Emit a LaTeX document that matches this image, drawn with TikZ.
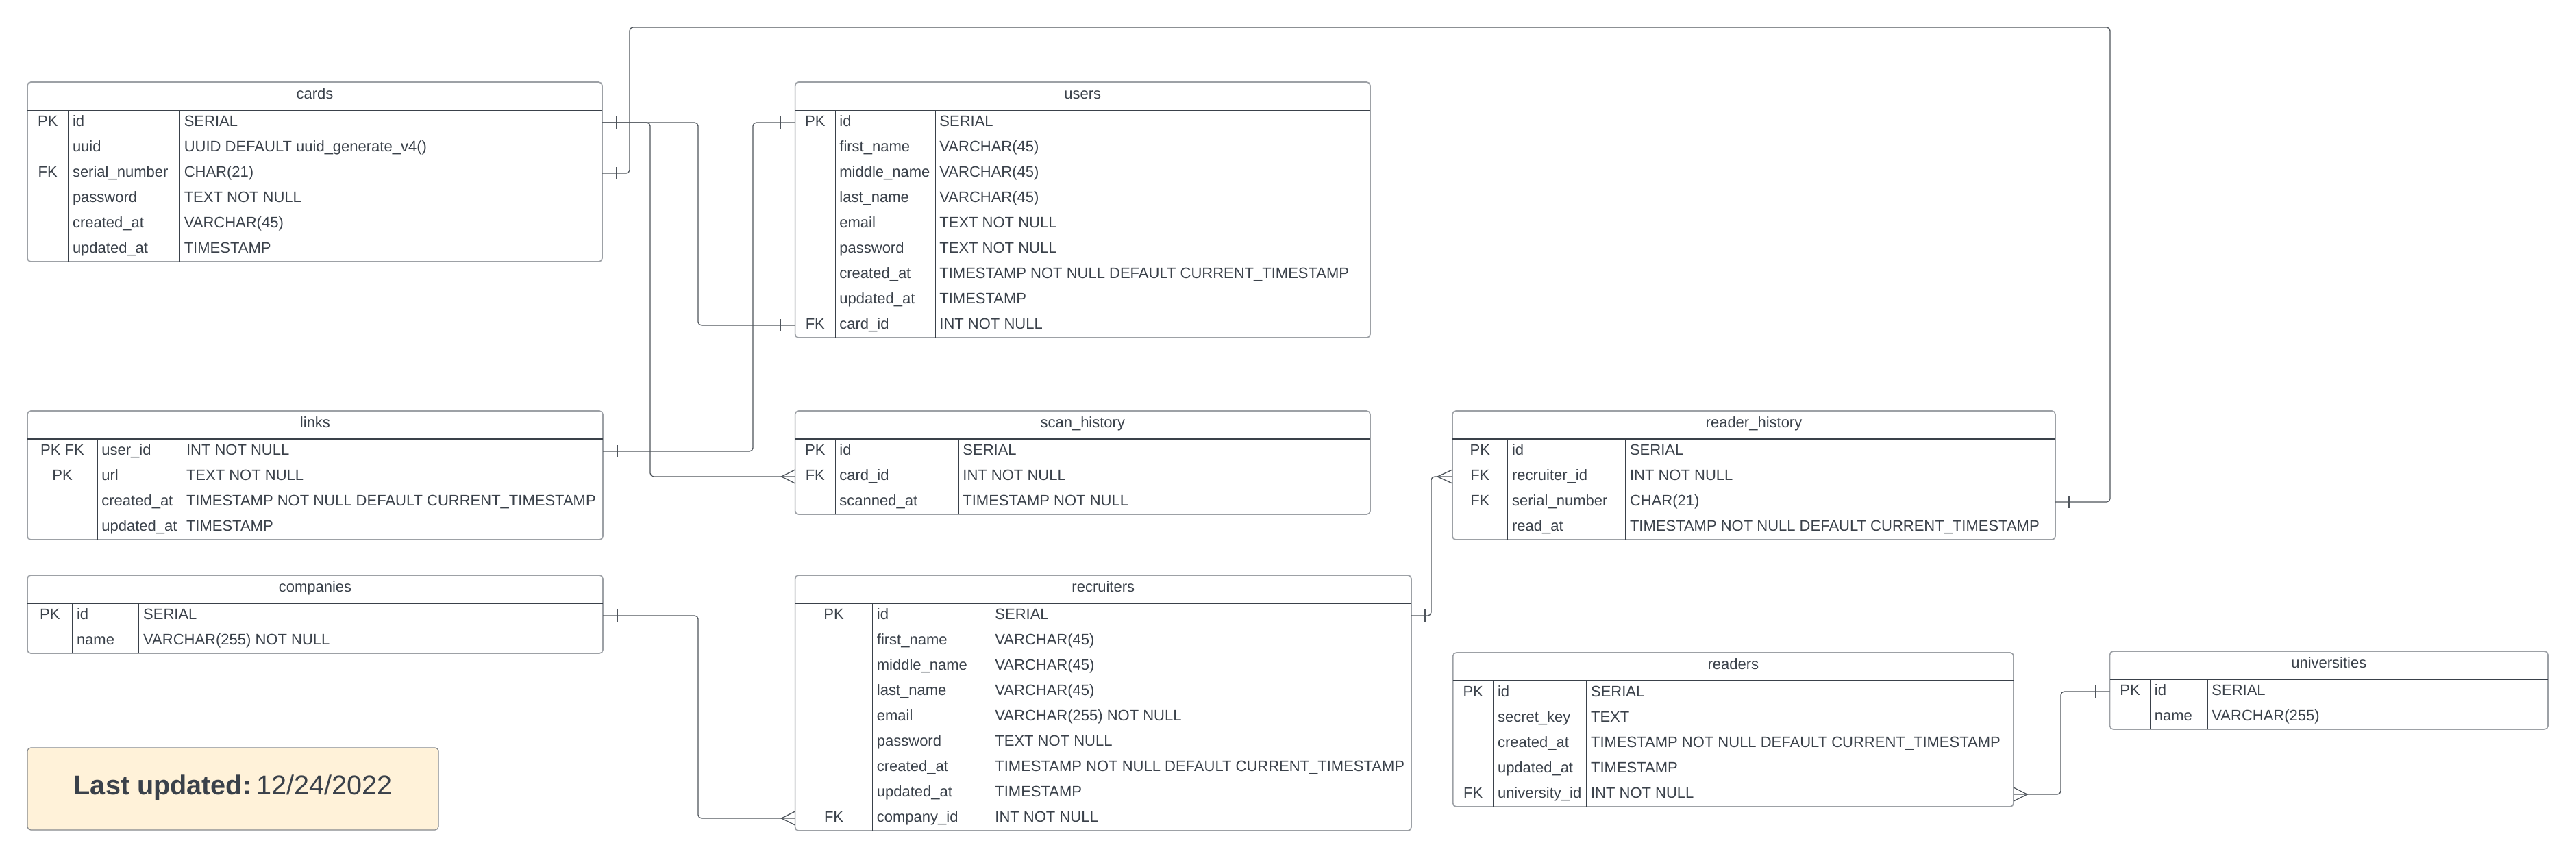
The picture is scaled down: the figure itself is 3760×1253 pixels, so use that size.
\documentclass[tikz,border=0pt]{standalone}
\usepackage{fontspec}
\setmainfont{Liberation Sans}
\usetikzlibrary{calc}
\definecolor{ink}{HTML}{3A414A}
\definecolor{frame}{HTML}{9DA1A6}
\definecolor{wire}{HTML}{4F555C}
\definecolor{cream}{HTML}{FFF2D9}
\definecolor{noteframe}{HTML}{85898E}
\tikzset{
  tbl/.style={draw=frame, line width=0.8pt, rounded corners=2.5pt, fill=white, inner sep=0pt, outer sep=0pt},
  hdr/.style={draw=ink, line width=0.7pt},
  coldiv/.style={draw=ink, line width=0.5pt},
  ttl/.style={anchor=base, inner sep=0pt, text=ink, font=\fontsize{11}{13}\selectfont},
  ktxt/.style={anchor=base, inner sep=0pt, text=ink, font=\fontsize{11}{13}\selectfont},
  ftxt/.style={anchor=base west, inner sep=0pt, text=ink, font=\fontsize{11}{13}\selectfont},
  conn/.style={draw=wire, line width=0.65pt, rounded corners=2.5pt},
  endtick/.style={draw=wire, line width=0.65pt},
  notebox/.style={draw=noteframe, line width=0.6pt, fill=cream, rounded corners=2.5pt, inner sep=0pt, outer sep=0pt},
}
% #1 name, #2 left, #3 right, #4 top, #5 divider1, #6 divider2, #7 rows, #8 title, #9 row list
\newcommand\erdtable[9]{%
  \pgfmathsetmacro\erbot{#4+77+37*(#7-1)}%
  \pgfmathsetmacro\erwid{(#3-#2)*0.5}%
  \pgfmathsetmacro\erhgt{(\erbot-#4)*0.5}%
  \node[tbl, minimum width=\erwid pt, minimum height=\erhgt pt, anchor=north west] (#1) at (#2,#4) {};
  \node[ttl] (#1-title) at ({(#2+#3)/2},#4+24) {#8};
  \draw[hdr] (#2,#4+41) -- (#3,#4+41);
  \draw[coldiv] (#5,#4+41) -- (#5,\erbot);
  \draw[coldiv] (#6,#4+41) -- (#6,\erbot);
  \foreach \erk/\ern/\ert [count=\eri from 0] in {#9} {
    \pgfmathsetmacro\ery{#4+59+37*\eri}
    \node[ktxt] (#1-\eri-k) at ({(#2+#5)/2},\ery+5) {\erk};
    \node[ftxt] (#1-\eri-n) at (#5+6,\ery+5) {\ern};
    \node[ftxt] (#1-\eri-t) at (#6+6,\ery+5) {\ert};
    \coordinate (#1-\eri-l) at (#2,\ery);
    \coordinate (#1-\eri-r) at (#3,\ery);
  }%
}
\begin{document}
\begin{tikzpicture}[x=0.5pt,y=-0.5pt]
\fill[white] (0,0) rectangle (3760,1253);
\useasboundingbox (0,0) rectangle (3760,1253);

\erdtable{cards}{40}{879}{120}{99.6}{262.4}{6}{cards}{
  PK/id/SERIAL,
  {}/uuid/UUID DEFAULT uuid\_generate\_v4(),
  FK/serial\_number/CHAR(21),
  {}/password/TEXT NOT NULL,
  {}/created\_at/VARCHAR(45),
  {}/updated\_at/TIMESTAMP}

\erdtable{users}{1160.6}{2000}{120}{1219}{1365}{9}{users}{
  PK/id/SERIAL,
  {}/first\_name/VARCHAR(45),
  {}/middle\_name/VARCHAR(45),
  {}/last\_name/VARCHAR(45),
  {}/email/TEXT NOT NULL,
  {}/password/TEXT NOT NULL,
  {}/created\_at/TIMESTAMP NOT NULL DEFAULT CURRENT\_TIMESTAMP,
  {}/updated\_at/TIMESTAMP,
  FK/card\_id/INT NOT NULL}

\erdtable{links}{40}{880}{600}{142}{265.6}{4}{links}{
  PK FK/user\_id/INT NOT NULL,
  PK/url/TEXT NOT NULL,
  {}/created\_at/TIMESTAMP NOT NULL DEFAULT CURRENT\_TIMESTAMP,
  {}/updated\_at/TIMESTAMP}

\erdtable{scan}{1160.6}{2000}{600}{1219}{1399}{3}{scan\_history}{
  PK/id/SERIAL,
  FK/card\_id/INT NOT NULL,
  {}/scanned\_at/TIMESTAMP NOT NULL}

\erdtable{rhist}{2120}{3000}{600}{2200.6}{2372.6}{4}{reader\_history}{
  PK/id/SERIAL,
  FK/recruiter\_id/INT NOT NULL,
  FK/serial\_number/CHAR(21),
  {}/read\_at/TIMESTAMP NOT NULL DEFAULT CURRENT\_TIMESTAMP}

\erdtable{comp}{40}{880}{840}{105.6}{202.8}{2}{companies}{
  PK/id/SERIAL,
  {}/name/VARCHAR(255) NOT NULL}

\erdtable{recr}{1160.6}{2060}{840}{1273.5}{1446}{9}{recruiters}{
  PK/id/SERIAL,
  {}/first\_name/VARCHAR(45),
  {}/middle\_name/VARCHAR(45),
  {}/last\_name/VARCHAR(45),
  {}/email/VARCHAR(255) NOT NULL,
  {}/password/TEXT NOT NULL,
  {}/created\_at/TIMESTAMP NOT NULL DEFAULT CURRENT\_TIMESTAMP,
  {}/updated\_at/TIMESTAMP,
  FK/company\_id/INT NOT NULL}

\erdtable{readers}{2120.7}{2939}{953}{2179.6}{2315.7}{5}{readers}{
  PK/id/SERIAL,
  {}/secret\_key/TEXT,
  {}/created\_at/TIMESTAMP NOT NULL DEFAULT CURRENT\_TIMESTAMP,
  {}/updated\_at/TIMESTAMP,
  FK/university\_id/INT NOT NULL}

\erdtable{univ}{3079.6}{3719}{951}{3138.5}{3222}{2}{universities}{
  PK/id/SERIAL,
  {}/name/VARCHAR(255)}

% note box
\node[notebox, minimum width=300pt, minimum height=60pt, anchor=north west] (note) at (40,1092) {};
\node[anchor=base, inner sep=0pt, text=ink, font=\fontsize{19.8}{24}\selectfont] (notetext) at (340,1160) {\textbf{Last updated:}\,12/24/2022};

% connectors
\draw[conn] (cards-0-r) -- ++(140,0) |- (users-8-l);
\draw[conn] (cards-0-r) -- ++(70,0) |- (scan-1-l);
\draw[conn] (cards-2-r) -- ++(40,0) -- ++(0,-213) -- ++(2161,0) |- (rhist-2-r);
\draw[conn] (links-0-r) -- ++(219,0) |- (users-0-l);
\draw[conn] (comp-0-r) -- ++(139,0) |- (recr-8-l);
\draw[conn] (recr-0-r) -- ++(29,0) |- (rhist-1-l);
\draw[conn] (readers-4-r) -- ++(69,0) |- (univ-0-l);

% one-side bars
\draw[endtick] ($(cards-0-r)+(21,-9)$) -- ++(0,18);
\draw[endtick] ($(cards-2-r)+(21,-9)$) -- ++(0,18);
\draw[endtick] ($(links-0-r)+(21,-9)$) -- ++(0,18);
\draw[endtick] ($(comp-0-r)+(21,-9)$) -- ++(0,18);
\draw[endtick] ($(recr-0-r)+(20,-9)$) -- ++(0,18);
\draw[endtick] ($(users-0-l)+(-21,-9)$) -- ++(0,18);
\draw[endtick] ($(users-8-l)+(-21,-9)$) -- ++(0,18);
\draw[endtick] ($(rhist-2-r)+(20,-9)$) -- ++(0,18);
\draw[endtick] ($(univ-0-l)+(-21,-9)$) -- ++(0,18);

% crow's feet
\draw[endtick] ($(scan-1-l)+(0,-10)$) -- ($(scan-1-l)+(-20,0)$) -- ($(scan-1-l)+(0,10)$);
\draw[endtick] ($(recr-8-l)+(0,-10)$) -- ($(recr-8-l)+(-20,0)$) -- ($(recr-8-l)+(0,10)$);
\draw[endtick] ($(rhist-1-l)+(0,-10)$) -- ($(rhist-1-l)+(-22,0)$) -- ($(rhist-1-l)+(0,10)$);
\draw[endtick] ($(readers-4-r)+(0,-10)$) -- ($(readers-4-r)+(20,0)$) -- ($(readers-4-r)+(0,10)$);
\end{tikzpicture}
\end{document}
